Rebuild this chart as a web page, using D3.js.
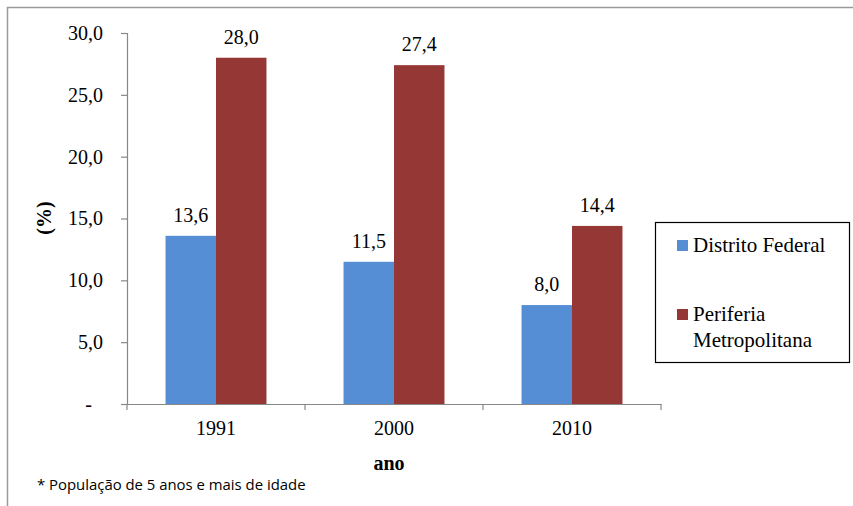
<!DOCTYPE html>
<html>
<head>
<meta charset="utf-8">
<script src="https://cdn.jsdelivr.net/npm/d3@7"></script>
<style>
  body { margin: 0; background: #fff; }
</style>
</head>
<body>
<svg></svg>
<script>
// data
var years = ["1991", "2000", "2010"];
var seriesNames = ["Distrito Federal", "Periferia Metropolitana"];
var distritoFederal = [13.6, 11.5, 8.0];
var periferia = [28.0, 27.4, 14.4];
var yTicks = [0, 5, 10, 15, 20, 25, 30];
var colors = ["#558ed5", "#953735"];

var svgWidth = 853, svgHeight = 506;

var svg = d3.select("svg")
    .attr("width", svgWidth)
    .attr("height", svgHeight);

// outer frame (only top and left edges show)
svg.append("rect")
    .attr("x", 7.5).attr("y", 7.5)
    .attr("width", 900).attr("height", 600)
    .attr("fill", "none")
    .attr("stroke", "#9a9a9a")
    .attr("stroke-width", 1.5);

var plotLeft = 127, plotRight = 661, plotTop = 33, plotBottom = 404;

// scales
var yScale = d3.scaleLinear()
    .domain([0, 30])
    .range([plotBottom, plotTop]);

var xScale = d3.scaleBand()
    .domain(years)
    .range([plotLeft, plotRight])
    .paddingInner(0.433)
    .paddingOuter(0.2165);

var xInner = d3.scaleBand()
    .domain([0, 1])
    .range([0, xScale.bandwidth()]);

var fmt = function(d) { return d3.format(".1f")(d).replace(".", ","); };

// y axis
var y_axis = d3.axisLeft(yScale)
    .tickValues(yTicks)
    .tickSize(6)
    .tickPadding(18)
    .tickFormat(function(d) { return d === 0 ? "-" : fmt(d); });

var gy = svg.append("g")
    .attr("transform", "translate(" + plotLeft + ",0)")
    .call(y_axis);
gy.select(".domain").attr("stroke", "#888").attr("stroke-width", 1.2);
gy.selectAll(".tick line").attr("stroke", "#888").attr("stroke-width", 1.2);
gy.selectAll(".tick text")
    .attr("fill", "#000")
    .attr("dx", function(d) { return d === 0 ? -11 : 0; })
    .style("font-family", "'Liberation Serif'")
    .style("font-size", "20px");

// x axis
var x_axis = d3.axisBottom(xScale)
    .tickSize(0)
    .tickPadding(17);

var gx = svg.append("g")
    .attr("transform", "translate(0," + plotBottom + ")")
    .call(x_axis);
gx.select(".domain").attr("stroke", "#888").attr("stroke-width", 1.2);
gx.selectAll(".tick text")
    .attr("fill", "#000")
    .style("font-family", "'Liberation Serif'")
    .style("font-size", "20px");

// category boundary ticks
var step = xScale.step();
var bounds = d3.range(years.length + 1).map(function(i) { return plotLeft + i * step; });
gx.selectAll(".bound")
    .data(bounds)
    .enter().append("line")
    .attr("x1", function(d) { return d; })
    .attr("x2", function(d) { return d; })
    .attr("y1", 0).attr("y2", 6)
    .attr("stroke", "#888")
    .attr("stroke-width", 1.2);

// bars
var seriesData = [distritoFederal, periferia];
var groups = svg.selectAll(".series")
    .data(seriesData)
    .enter().append("g")
    .attr("fill", function(d, i) { return colors[i]; });

groups.each(function(vals, si) {
    var g = d3.select(this);
    g.selectAll("rect")
        .data(vals)
        .enter().append("rect")
        .attr("x", function(d, i) { return xScale(years[i]) + xInner(si); })
        .attr("y", function(d) { return yScale(d); })
        .attr("width", xInner.bandwidth())
        .attr("height", function(d) { return plotBottom - yScale(d); });
    g.selectAll("text")
        .data(vals)
        .enter().append("text")
        .attr("x", function(d, i) { return xScale(years[i]) + xInner(si) + xInner.bandwidth() / 2; })
        .attr("y", function(d) { return yScale(d) - 14; })
        .attr("text-anchor", "middle")
        .attr("fill", "#000")
        .style("font-family", "'Liberation Serif'")
        .style("font-size", "20px")
        .text(fmt);
});

// axis titles
svg.append("text")
    .attr("x", 389).attr("y", 470)
    .attr("text-anchor", "middle")
    .style("font-family", "'Liberation Serif'")
    .style("font-size", "20px")
    .style("font-weight", "bold")
    .text("ano");

svg.append("text")
    .attr("transform", "translate(51,218) rotate(-90)")
    .attr("text-anchor", "middle")
    .style("font-family", "'Liberation Serif'")
    .style("font-size", "20px")
    .style("font-weight", "bold")
    .text("(%)");

// footnote
svg.append("text")
    .attr("x", 37).attr("y", 490)
    .style("font-family", "'Open Sans'")
    .style("font-size", "14.9px")
    .text("* População de 5 anos e mais de idade");

// legend
var legend = svg.append("g");
legend.append("rect")
    .attr("x", 655.5).attr("y", 222.5)
    .attr("width", 194).attr("height", 140)
    .attr("fill", "#fff")
    .attr("stroke", "#000")
    .attr("stroke-width", 1.2);

var legendRows = [
    { lines: ["Distrito Federal"], y: 252 },
    { lines: ["Periferia", "Metropolitana"], y: 321 }
];
legendRows.forEach(function(row, i) {
    legend.append("rect")
        .attr("x", 677).attr("y", row.y - 12)
        .attr("width", 11).attr("height", 11)
        .attr("fill", colors[i]);
    var t = legend.append("text")
        .attr("x", 693).attr("y", row.y)
        .style("font-family", "'Liberation Serif'")
        .style("font-size", "21px");
    row.lines.forEach(function(l, j) {
        t.append("tspan")
            .attr("x", 693)
            .attr("dy", j === 0 ? 0 : 26)
            .text(l);
    });
});
</script>
</body>
</html>
